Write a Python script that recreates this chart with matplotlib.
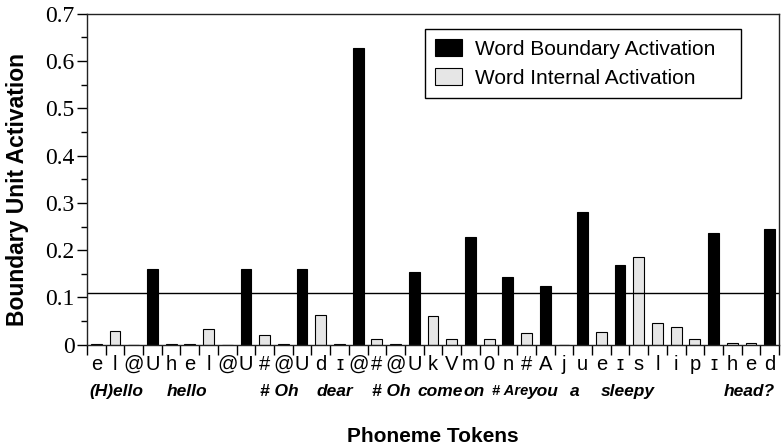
import matplotlib
matplotlib.use('Agg')
import matplotlib.pyplot as plt
import numpy as np

# phoneme tokens along the x axis
tokens = ['e', 'l', '@', 'U', 'h', 'e', 'l', '@', 'U', '#', '@', 'U', 'd', 'ɪ', '@', '#', '@', 'U',
          'k', 'V', 'm', '0', 'n', '#', 'A', 'j', 'u', 'e', 'ɪ', 's', 'l', 'i', 'p', 'ɪ', 'h', 'e', 'd']

boundary = [0, 0, 0, 0.160, 0, 0, 0, 0, 0.160, 0, 0, 0.160, 0, 0, 0.627, 0, 0, 0.154,
            0, 0, 0.227, 0, 0.143, 0, 0.125, 0, 0.281, 0, 0.169, 0, 0, 0, 0, 0.236, 0, 0, 0.245]
internal = [0.002, 0.030, 0, 0, 0.002, 0.002, 0.033, 0, 0, 0.021, 0.002, 0, 0.063, 0.002, 0, 0.013, 0.002, 0,
            0.061, 0.012, 0, 0.012, 0, 0.024, 0, 0, 0, 0.027, 0, 0.185, 0.046, 0.037, 0.012, 0, 0.004, 0.004, 0]

threshold = 0.11

# words under the phonemes (centre given in token units)
words = ['(H)ello', 'hello', '# Oh', 'dear', '# Oh', 'come', 'on', '# Are', 'you', 'a', 'sleepy', 'head?']
word_pos = [1.1, 4.85, 9.8, 12.75, 15.75, 18.4, 20.2, 22.1, 23.9, 25.6, 28.4, 34.9]

sans = ['Liberation Sans', 'DejaVu Sans']
serif = ['Liberation Serif', 'DejaVu Serif']

fig = plt.figure(figsize=(7.83, 4.46), dpi=100)
ax = fig.add_axes([0.111, 0.227, 0.884, 0.742])

x = np.arange(len(tokens))
ax.bar(x, boundary, width=0.58, color='black', edgecolor='black', linewidth=0.8,
       label='Word Boundary Activation')
ax.bar(x, internal, width=0.58, color='#e6e6e6', edgecolor='black', linewidth=0.8,
       label='Word Internal Activation')
ax.axhline(threshold, color='black', linewidth=1.0)

ax.set_xlim(-0.5, len(tokens) - 0.5)
ax.set_ylim(0, 0.7)

ax.set_yticks(np.arange(0, 0.71, 0.1))
ax.set_yticklabels(['0', '0.1', '0.2', '0.3', '0.4', '0.5', '0.6', '0.7'],
                   family=serif, fontsize=17)
ax.set_yticks(np.arange(0.05, 0.7, 0.1), minor=True)
ax.tick_params(axis='y', which='major', direction='out', length=7, width=1, pad=2)
ax.tick_params(axis='y', which='minor', direction='out', length=4, width=1)

ax.set_xticks(np.arange(-0.5, len(tokens), 1.0))
ax.set_xticklabels([])
ax.tick_params(axis='x', which='major', direction='out', length=7, width=1)

for spine in ax.spines.values():
    spine.set_linewidth(1.0)
    spine.set_color('#222222')

# phoneme labels
for i, t in enumerate(tokens):
    ax.text(i, -0.021, t, ha='center', va='top', family=sans, fontsize=14.5,
            clip_on=False)

# word labels
for w, p in zip(words, word_pos):
    fs = 10.5 if w == '# Are' else 12.5
    ax.text(p, -0.098, w, ha='center', va='center', family=sans, fontsize=fs,
            fontweight='bold', fontstyle='italic', clip_on=False)

fig.text(0.022, 0.574, 'Boundary Unit Activation', rotation=90, ha='center',
         va='center', family=sans, fontsize=16.5, fontweight='bold')
fig.text(0.5 * (0.111 + 0.995), 0.008, 'Phoneme Tokens', ha='center', va='baseline',
         family=sans, fontsize=15, fontweight='bold')

leg = ax.legend(loc='upper left', bbox_to_anchor=(0.4884, 0.5, 0.4566, 0.455), mode='expand',
                prop={'family': sans, 'size': 15},
                fancybox=False, framealpha=1, edgecolor='black', handlelength=1.3,
                handleheight=0.9, borderpad=0.5, labelspacing=0.42, handletextpad=0.6,
                borderaxespad=0)
leg.get_frame().set_linewidth(1.0)

fig.savefig('out.png', dpi=100)
